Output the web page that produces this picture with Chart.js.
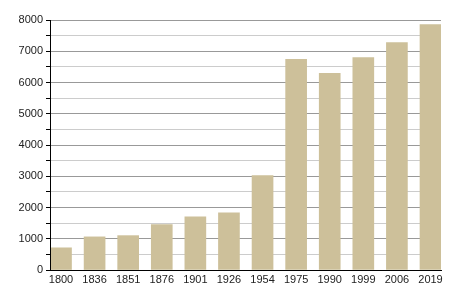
<!DOCTYPE html>
<html>
<head>
<meta charset="utf-8">
<script src="https://cdn.jsdelivr.net/npm/chart.js@4/dist/chart.umd.min.js"></script>
<style>
html,body{margin:0;padding:0;background:#fff;}
#wrap{width:450px;height:300px;position:relative;}
</style>
</head>
<body>
<div id="wrap"><canvas id="c" width="450" height="300"></canvas></div>
<script>
const years = ["1800","1836","1851","1876","1901","1926","1954","1975","1990","1999","2006","2019"];
const population = [710, 1060, 1100, 1450, 1700, 1830, 3020, 6740, 6290, 6800, 7280, 7850];
const yTicks = [0, 1000, 2000, 3000, 4000, 5000, 6000, 7000, 8000];

const points = population.map((v, i) => ({x: i, y: v}));

new Chart(document.getElementById('c'), {
  type: 'bar',
  data: {
    datasets: [{
      data: points,
      backgroundColor: '#cdc09a',
      borderWidth: 0,
      barThickness: 21
    }]
  },
  options: {
    responsive: false,
    animation: false,
    events: [],
    layout: {padding: {top: 20, right: 9, left: 0, bottom: 0}},
    plugins: {legend: {display: false}, tooltip: {enabled: false}},
    scales: {
      x: {
        type: 'linear',
        offset: false,
        min: -0.3275,
        max: 11.3126,
        afterBuildTicks: (s) => { s.ticks = years.map((_, i) => ({value: i})); },
        afterFit: (s) => { s.height = 30; },
        grid: {display: false, offset: false, drawTicks: false},
        border: {display: true, color: '#000000', width: 1, z: 2},
        ticks: {
          autoSkip: false,
          maxRotation: 0,
          padding: 3,
          color: '#222',
          font: {family: 'Liberation Sans', size: 11},
          callback: (v) => years[v] ?? ''
        }
      },
      y: {
        min: 0,
        max: 8000,
        afterFit: (s) => { s.width = 50; },
        ticks: {
          stepSize: 500,
          maxTicksLimit: 20,
          autoSkip: false,
          padding: 3,
          color: '#222',
          font: {family: 'Liberation Sans', size: 11},
          callback: (v) => yTicks.includes(v) ? String(v) : ''
        },
        grid: {
          drawTicks: true,
          tickLength: 4,
          tickColor: '#000',
          lineWidth: 1,
          color: (ctx) => (ctx.tick && ctx.tick.value % 1000 === 0) ? '#999999' : '#cccccc'
        },
        border: {display: true, color: '#000000', width: 1, z: 2}
      }
    }
  }
});
</script>
</body>
</html>
